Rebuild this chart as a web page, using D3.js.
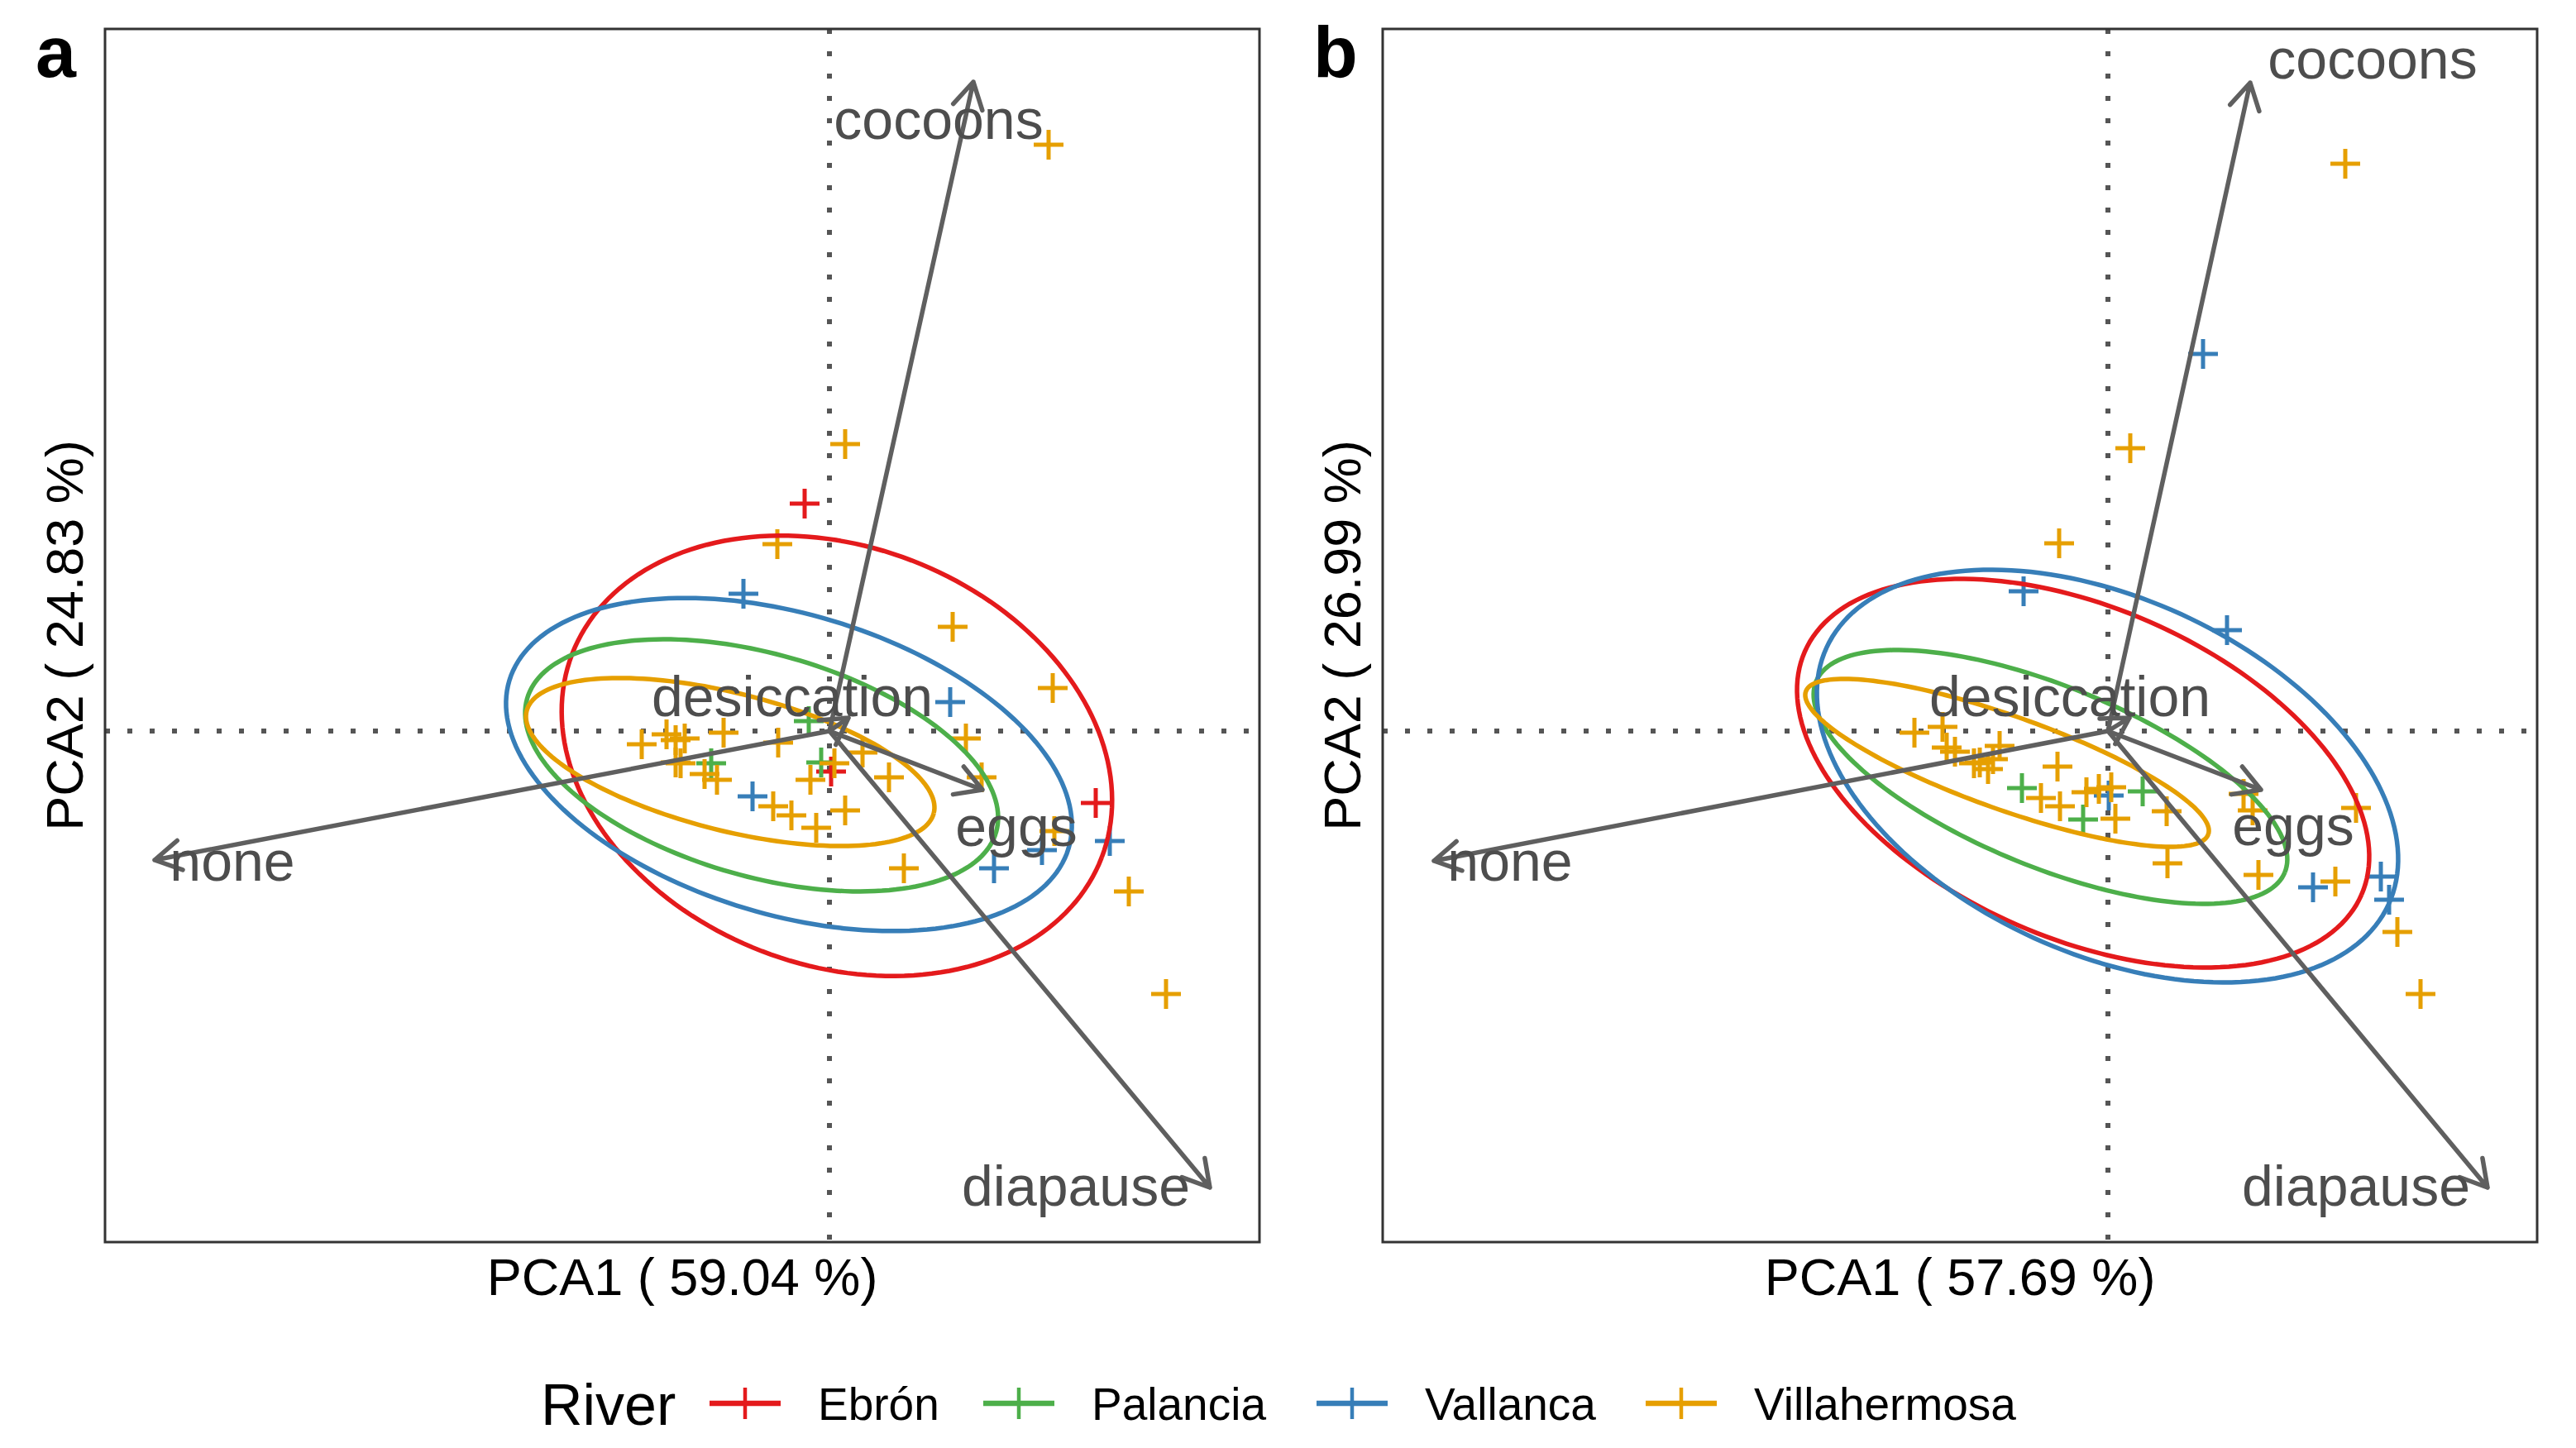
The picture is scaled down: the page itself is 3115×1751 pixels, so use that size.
<!DOCTYPE html>
<html>
<head>
<meta charset="utf-8">
<script src="https://cdn.jsdelivr.net/npm/d3@7"></script>
<style>
  body { margin: 0; background: #fff; }
  text { font-family: "Liberation Sans", Arial, sans-serif; }
</style>
</head>
<body>
<div id="chart-area"></div>
<script>
// rivers and their colours
const rivers = ["Ebrón", "Palancia", "Vallanca", "Villahermosa"]
const riverColors = ["#E41A1C", "#4DAF4A", "#377EB8", "#E69F00"]

// axis titles
const xTitles = ["PCA1 ( 59.04 %)", "PCA1 ( 57.69 %)"]
const yTitles = ["PCA2 ( 24.83 %)", "PCA2 ( 26.99 %)"]
const panelTags = ["a", "b"]

// sample scores [PC1, PC2, river index] - panel a
const scoresA = [
    [-0.15, 1.375, 0], [0.01, -0.245, 0], [1.61, -0.435, 0],
    [-0.125, 0.06, 1], [-0.715, -0.195, 1], [-0.05, -0.19, 1],
    [-0.52, 0.83, 2], [-0.465, -0.395, 2], [0.73, 0.175, 2],
    [1.695, -0.665, 2], [1.285, -0.72, 2], [0.995, -0.83, 2],
    [1.325, 3.545, 3], [0.095, 1.735, 3], [-0.315, 1.13, 3], [0.745, 0.63, 3],
    [1.35, 0.26, 3], [0.825, -0.045, 3], [0.92, -0.28, 3], [1.36, -0.605, 3],
    [1.81, -0.97, 3], [2.035, -1.59, 3], [-1.135, -0.08, 3], [-0.985, -0.02, 3],
    [-0.93, -0.055, 3], [-0.875, -0.045, 3], [-0.64, -0.01, 3], [-0.31, -0.07, 3],
    [-0.93, -0.19, 3], [-0.9, -0.195, 3], [-0.755, -0.26, 3], [-0.68, -0.295, 3],
    [-0.34, -0.455, 3], [-0.23, -0.51, 3], [-0.08, -0.585, 3], [0.095, -0.48, 3],
    [-0.115, -0.295, 3], [0.03, -0.195, 3], [0.2, -0.13, 3], [0.36, -0.28, 3],
    [0.45, -0.83, 3]
]

// sample scores - panel b
const scoresB = [
    [-0.52, -0.345, 1], [-0.15, -0.535, 1], [0.21, -0.365, 1],
    [0.575, 2.28, 2], [-0.51, 0.845, 2], [0.72, 0.61, 2], [0.005, -0.39, 2],
    [1.24, -0.945, 2], [1.65, -0.88, 2], [1.7, -1.02, 2],
    [1.435, 3.43, 3], [0.135, 1.71, 3], [-0.295, 1.135, 3], [-1.17, -0.01, 3],
    [-1.0, 0.025, 3], [-0.975, -0.1, 3], [-0.925, -0.125, 3], [-0.81, -0.195, 3],
    [-0.775, -0.19, 3], [-0.725, -0.23, 3], [-0.695, -0.17, 3], [-0.655, -0.09, 3],
    [-0.305, -0.215, 3], [-0.405, -0.405, 3], [-0.29, -0.455, 3], [-0.13, -0.37, 3],
    [-0.055, -0.35, 3], [0.02, -0.34, 3], [0.045, -0.53, 3], [0.355, -0.485, 3],
    [0.36, -0.8, 3], [0.82, -0.38, 3], [0.875, -0.48, 3], [1.5, -0.465, 3],
    [0.91, -0.87, 3], [1.375, -0.91, 3], [1.75, -1.215, 3], [1.89, -1.59, 3]
]

// variable loadings [PC1, PC2] and label anchor [PC1, PC2]
const variables = ["cocoons", "desiccation", "eggs", "none", "diapause"]
const loadingsA = [[0.87, 3.925], [0.115, 0.08], [0.925, -0.355], [-4.08, -0.78], [2.3, -2.76]]
const labelPosA = [[0.66, 3.58], [-0.225, 0.09], [1.13, -0.695], [-3.61, -0.905], [1.49, -2.87]]
const loadingsB = [[0.86, 3.92], [0.13, 0.08], [0.925, -0.355], [-4.075, -0.785], [2.295, -2.76]]
const labelPosB = [[1.6, 3.945], [-0.23, 0.09], [1.12, -0.69], [-3.615, -0.905], [1.5, -2.87]]

// 68% ellipses per river [cx, cy, semi-major, semi-minor, angle deg]
const ellipsesA = [
    [0.045, -0.15, 1.715, 1.265, -21],
    [-0.41, -0.2075, 1.474, 0.673, -15.85],
    [-0.245, -0.2025, 1.765, 0.908, -16.7],
    [-0.6, -0.1875, 1.269, 0.4155, -14.1]
]
const ellipsesB = [
    [-0.15, -0.255, 1.8365, 1.0, -23.6],
    [-0.3475, -0.2775, 1.53, 0.5465, -22.15],
    [-0.0025, -0.2725, 1.868, 1.075, -24.5],
    [-0.61, -0.1925, 1.291, 0.2825, -19.56]
]

const xDomains = [[-4.38, 2.60], [-4.385, 2.595]]
const yDomain = [-3.09, 4.245]

const W = 3115, H = 1751
const svg = d3.select("#chart-area").append("svg")
    .attr("width", W)
    .attr("height", H)

const panels = [
    {left: 127, right: 1523, scores: scoresA, loadings: loadingsA, labels: labelPosA, ellipses: ellipsesA},
    {left: 1672, right: 3068, scores: scoresB, loadings: loadingsB, labels: labelPosB, ellipses: ellipsesB}
]
const plotTop = 35, plotBottom = 1502
const grey = "#5f5f5f"

panels.forEach((p, i) => {
    const x = d3.scaleLinear().domain(xDomains[i]).range([p.left, p.right])
    const y = d3.scaleLinear().domain(yDomain).range([plotBottom, plotTop])
    const g = svg.append("g")

    g.append("clipPath").attr("id", "clip" + i)
        .append("rect")
        .attr("x", p.left).attr("y", plotTop)
        .attr("width", p.right - p.left).attr("height", plotBottom - plotTop)

    const inner = g.append("g").attr("clip-path", `url(#clip${i})`)

    // dotted zero lines
    inner.append("line")
        .attr("x1", p.left).attr("x2", p.right)
        .attr("y1", y(0)).attr("y2", y(0))
    inner.append("line")
        .attr("x1", x(0)).attr("x2", x(0))
        .attr("y1", plotTop).attr("y2", plotBottom)
    inner.selectAll("line")
        .attr("stroke", "#555")
        .attr("stroke-width", 6)
        .attr("stroke-dasharray", "6 21")

    // points (shape +)
    inner.selectAll("path.pt").data(p.scores).enter()
        .append("path")
        .attr("class", "pt")
        .attr("d", d => {
            const px = x(d[0]), py = y(d[1])
            return `M${px - 18},${py}H${px + 18}M${px},${py - 18}V${py + 18}`
        })
        .attr("stroke", d => riverColors[d[2]])
        .attr("stroke-width", 5)
        .attr("fill", "none")

    // ellipses
    const line = d3.line().x(d => x(d[0])).y(d => y(d[1]))
    inner.selectAll("path.ell").data(p.ellipses).enter()
        .append("path")
        .attr("class", "ell")
        .attr("d", e => {
            const phi = e[4] * Math.PI / 180
            const pts = d3.range(0, 361, 2).map(t => {
                const a = t * Math.PI / 180
                return [
                    e[0] + e[2] * Math.cos(phi) * Math.cos(a) - e[3] * Math.sin(phi) * Math.sin(a),
                    e[1] + e[2] * Math.sin(phi) * Math.cos(a) + e[3] * Math.cos(phi) * Math.sin(a)
                ]
            })
            return line(pts)
        })
        .attr("stroke", (e, j) => riverColors[j])
        .attr("stroke-width", 5.5)
        .attr("fill", "none")

    // loading arrows
    inner.selectAll("path.arrow").data(p.loadings).enter()
        .append("path")
        .attr("class", "arrow")
        .attr("d", d => {
            const x0 = x(0), y0 = y(0), x1 = x(d[0]), y1 = y(d[1])
            const ang = Math.atan2(y1 - y0, x1 - x0)
            const len = 36, spread = Math.PI / 6
            const hx1 = x1 - len * Math.cos(ang - spread), hy1 = y1 - len * Math.sin(ang - spread)
            const hx2 = x1 - len * Math.cos(ang + spread), hy2 = y1 - len * Math.sin(ang + spread)
            return `M${x0},${y0}L${x1},${y1}M${hx1},${hy1}L${x1},${y1}L${hx2},${hy2}`
        })
        .attr("stroke", grey)
        .attr("stroke-width", 5.5)
        .attr("stroke-linecap", "round")
        .attr("stroke-linejoin", "round")
        .attr("fill", "none")

    // variable names
    inner.selectAll("text.var").data(p.labels).enter()
        .append("text")
        .attr("class", "var")
        .attr("x", d => x(d[0]))
        .attr("y", d => y(d[1]))
        .attr("text-anchor", "middle")
        .attr("font-size", "68px")
        .attr("fill", "#4d4d4d")
        .text((d, j) => variables[j])

    // panel border
    g.append("rect")
        .attr("x", p.left).attr("y", plotTop)
        .attr("width", p.right - p.left).attr("height", plotBottom - plotTop)
        .attr("fill", "none")
        .attr("stroke", "#333")
        .attr("stroke-width", 3)

    // X label
    g.append("text")
        .attr("x", (p.left + p.right) / 2)
        .attr("y", 1566)
        .attr("text-anchor", "middle")
        .attr("font-size", "63px")
        .text(xTitles[i])

    // Y label
    g.append("text")
        .attr("transform", `translate(${p.left - 27}, ${(plotTop + plotBottom) / 2}) rotate(-90)`)
        .attr("text-anchor", "middle")
        .attr("font-size", "63px")
        .text(yTitles[i])

    // panel tag
    g.append("text")
        .attr("x", p.left - 84)
        .attr("y", 93)
        .attr("font-size", "88px")
        .attr("font-weight", "bold")
        .text(panelTags[i])
})

// legend
const legend = svg.append("g")
legend.append("text")
    .attr("x", 654)
    .attr("y", 1723)
    .attr("font-size", "70px")
    .text("River")

const keyX = [901, 1232, 1635, 2033]
const keys = legend.selectAll("g.key").data(rivers).enter()
    .append("g").attr("class", "key")
    .attr("transform", (d, i) => `translate(${keyX[i]}, 1697)`)
keys.append("line")
    .attr("x1", -43).attr("x2", 43)
    .attr("stroke", (d, i) => riverColors[i])
    .attr("stroke-width", 6.5)
keys.append("line")
    .attr("y1", -19).attr("y2", 19)
    .attr("stroke", (d, i) => riverColors[i])
    .attr("stroke-width", 4.5)
keys.append("text")
    .attr("x", 88)
    .attr("y", 20)
    .attr("font-size", "55px")
    .text(d => d)
</script>
</body>
</html>
